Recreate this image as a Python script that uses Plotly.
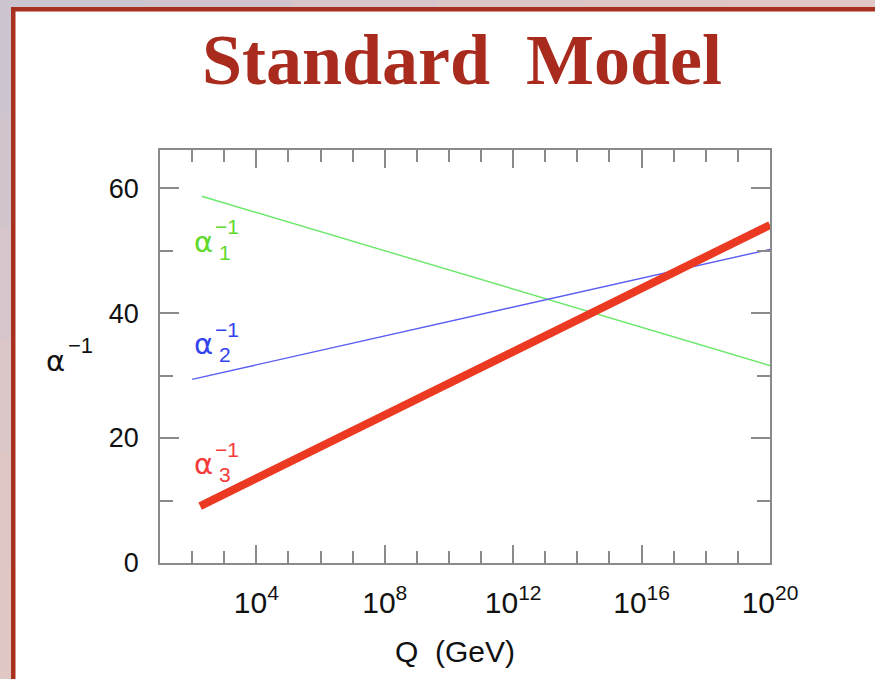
import plotly.graph_objects as go

# Inverse gauge couplings vs. energy scale (one-loop running, Standard Model)
q_alpha1 = [10.0**2.3, 1e20]
inv_alpha1 = [58.7, 31.6]
q_alpha2 = [10.0**2.0, 1e20]
inv_alpha2 = [29.4, 50.2]
q_alpha3 = [10.0**2.25, 1e20]
inv_alpha3 = [9.1, 54.1]

x_tick_exponents = [4, 8, 12, 16, 20]
y_tick_values = [0, 20, 40, 60]

W, H = 875, 679
ML, MR, MT, MB = 160, 105, 150, 116
PW, PH = W - ML - MR, H - MT - MB

def px(x):
    return (x - ML) / PW

def py(y):
    return (H - MB - y) / PH

fig = go.Figure()

fig.add_trace(go.Scatter(x=q_alpha1, y=inv_alpha1, mode="lines",
                         line=dict(color="#6ae86a", width=1.4), showlegend=False))
fig.add_trace(go.Scatter(x=q_alpha2, y=inv_alpha2, mode="lines",
                         line=dict(color="#5a5cf5", width=1.4), showlegend=False))
fig.add_trace(go.Scatter(x=q_alpha3, y=inv_alpha3, mode="lines",
                         line=dict(color="#ec3a22", width=8), showlegend=False))

axis_grey = "#8a8a8a"
sans = "Liberation Sans, Arial, sans-serif"
serif = "Liberation Serif, Times New Roman, serif"
greek = "DejaVu Sans, sans-serif"

fig.update_xaxes(
    type="log", range=[1, 20],
    tickmode="array",
    tickvals=[10.0**e for e in x_tick_exponents],
    ticktext=["10<sup>%d</sup>" % e for e in x_tick_exponents],
    ticks="inside", ticklen=18, tickwidth=1.5, tickcolor=axis_grey,
    minor=dict(dtick=1, ticks="inside", ticklen=12, tickwidth=1.5, tickcolor=axis_grey),
    showline=True, linecolor=axis_grey, linewidth=1.5, mirror="ticks",
    showgrid=False, zeroline=False,
    tickfont=dict(family=sans, size=30, color="#111"), ticklabelstandoff=12,
)
fig.update_yaxes(
    range=[0, 66.1],
    tickmode="array", tickvals=y_tick_values,
    ticktext=[str(v) for v in y_tick_values],
    ticks="inside", ticklen=19, tickwidth=1.5, tickcolor=axis_grey,
    minor=dict(dtick=10, ticks="inside", ticklen=13, tickwidth=1.5, tickcolor=axis_grey),
    showline=True, linecolor=axis_grey, linewidth=1.5, mirror="ticks",
    showgrid=False, zeroline=False,
    tickfont=dict(family=sans, size=27, color="#111"), ticklabelstandoff=14,
)

annotations = []

def label(text, x, y, size, color, family=sans, xanchor="center", yanchor="middle"):
    annotations.append(dict(
        text=text, x=px(x), y=py(y), xref="paper", yref="paper",
        xanchor=xanchor, yanchor=yanchor, showarrow=False, borderpad=0,
        font=dict(family=family, size=size, color=color),
    ))

# Slide title
label("<b>Standard  Model</b>", 462, 60, 72, "#a82b1d", family=serif)

# Axis titles
label("Q  (GeV)", 455, 651, 30, "#111")
label("α", 55, 361, 29, "#111", family=greek)
label("−1", 80, 345, 22, "#111")

# Curve labels: alpha with stacked superscript -1 and subscript index
curve_labels = [("1", "#5fd92c", 242), ("2", "#3344ee", 344), ("3", "#f5393a", 464)]
for idx, col, yc in curve_labels:
    label("α", 203, yc, 29, col, family=greek)
    label("−1", 227, yc - 15, 21, col)
    label(idx, 225, yc + 10, 21, col)

fig.update_layout(annotations=annotations)

# Slide frame: tinted outer strips and dark-red border lines
shapes = []
strip_cols = ["#ccc4cf", "#d0c4cd", "#d6c5cb", "#dbc6c8", "#dfc7c5", "#e2c8c4"]
n = len(strip_cols)
for i, c in enumerate(strip_cols):
    x0, x1 = W * i / n, W * (i + 1) / n + 1
    shapes.append(dict(type="rect", xref="paper", yref="paper",
                       x0=px(x0), x1=px(x1), y0=py(0), y1=py(8),
                       fillcolor=c, line=dict(width=0), layer="below"))
    y0, y1 = H * i / n, H * (i + 1) / n + 1
    shapes.append(dict(type="rect", xref="paper", yref="paper",
                       x0=px(0), x1=px(11), y0=py(y1), y1=py(y0),
                       fillcolor=c, line=dict(width=0), layer="below"))
shapes.append(dict(type="rect", xref="paper", yref="paper",
                   x0=px(11), x1=px(W + 5), y0=py(7), y1=py(11.5),
                   fillcolor="#a8301f", line=dict(width=0), layer="below"))
shapes.append(dict(type="rect", xref="paper", yref="paper",
                   x0=px(11), x1=px(15.5), y0=py(H + 5), y1=py(7),
                   fillcolor="#a8301f", line=dict(width=0), layer="below"))
fig.update_layout(shapes=shapes)

fig.update_layout(
    width=W, height=H,
    margin=dict(l=ML, r=MR, t=MT, b=MB, pad=0),
    paper_bgcolor="white", plot_bgcolor="rgba(0,0,0,0)",
    showlegend=False,
)

fig.write_html("out.html")
